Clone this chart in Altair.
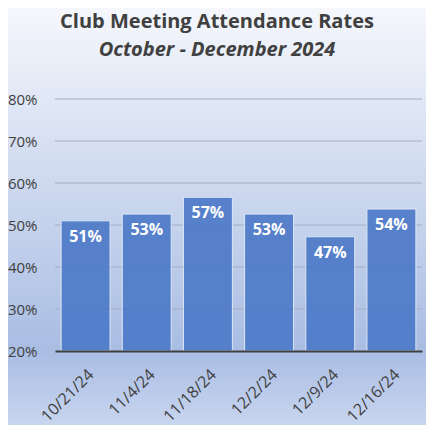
import altair as alt
import pandas as pd

title_text = "Club Meeting Attendance Rates"
subtitle_text = "October - December 2024"
dates = ["10/21/24", "11/4/24", "11/18/24", "12/2/24", "12/9/24", "12/16/24"]
rates = [0.51, 0.526, 0.566, 0.526, 0.472, 0.538]
y_ticks = [0.2, 0.3, 0.4, 0.5, 0.6, 0.7, 0.8]

df = pd.DataFrame({"date": dates, "rate": rates})
grid_df = pd.DataFrame({"rate": y_ticks[1:]})

W, H = 367, 252
PL, PT, PR, PB = 47, 91, 4, 74

yscale = alt.Scale(domain=[0.2, 0.8], nice=False, zero=False)
yaxis = alt.Axis(values=y_ticks, format=".0%",
                 labelFontSize=15, labelFont="Open Sans", labelColor="#404040",
                 ticks=False, domain=False, labelPadding=18, grid=False, zindex=2)

bg = alt.Chart(alt.Data(values=[{}])).mark_rect(
    fill=alt.Gradient(
        gradient="linear",
        stops=[
            alt.GradientStop(color="#f5f7fc", offset=0),
            alt.GradientStop(color="#a9bde3", offset=0.82),
            alt.GradientStop(color="#c8d5ef", offset=1),
        ],
        x1=0, x2=0, y1=0, y2=1,
    )
).encode(
    x=alt.value(-PL), x2=alt.value(W + PR),
    y=alt.value(-PT), y2=alt.value(H + PB),
)

title = alt.Chart(alt.Data(values=[{"t": title_text}])).mark_text(
    font="Open Sans", fontSize=20, fontWeight="bold", color="#404040",
    align="center", baseline="alphabetic"
).encode(text="t:N", x=alt.value(162), y=alt.value(-71))

subtitle = alt.Chart(alt.Data(values=[{"t": subtitle_text}])).mark_text(
    font="Open Sans", fontSize=20, fontWeight="bold", fontStyle="italic", color="#404040",
    align="center", baseline="alphabetic"
).encode(text="t:N", x=alt.value(162), y=alt.value(-43))

grid = alt.Chart(grid_df).mark_rule(color="#a4aec4", strokeWidth=1).encode(
    y=alt.Y("rate:Q", title=None, scale=yscale, axis=yaxis)
)

base = alt.Chart(df).encode(
    x=alt.X("date:N", sort=dates, title=None,
            scale=alt.Scale(paddingInner=0.2, paddingOuter=0.1),
            axis=alt.Axis(labelAngle=-45, labelFontSize=16, labelFont="Open Sans",
                          labelColor="#404040", ticks=False, domainColor="#404040",
                          domainWidth=2, labelPadding=15, grid=False, zindex=2)),
)

bars = base.mark_bar(fill="#4a78c6", fillOpacity=0.9, stroke="#dde6f5", strokeWidth=1).encode(
    y=alt.Y("rate:Q", title=None, scale=yscale, axis=yaxis),
    y2=alt.Y2(datum=0.2),
)
labels = base.mark_text(font="Open Sans", fontWeight="bold", fontSize=16, color="white",
                        baseline="alphabetic", dy=21, align="center").encode(
    y=alt.Y("rate:Q", title=None, scale=yscale, axis=yaxis),
    text=alt.Text("rate:Q", format=".0%"))

chart = alt.layer(bg, title, subtitle, grid, bars, labels).properties(
    width=W, height=H,
    autosize=alt.AutoSizeParams(type="none"),
    padding={"left": PL, "top": PT, "right": PR, "bottom": PB},
).configure_view(stroke=None).configure(background="white")

chart.save("out.html", embed_options={"renderer": "svg", "actions": False})
